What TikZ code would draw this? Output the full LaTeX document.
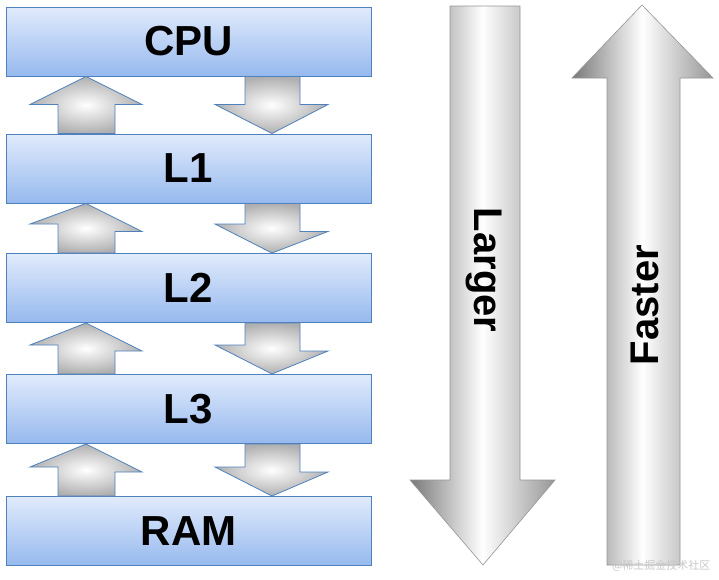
\documentclass[tikz,border=0pt]{standalone}
\usepackage{fontspec}
\setmainfont{Liberation Sans}
\newfontfamily\cjk{Noto Sans CJK SC}
\begin{document}
\begin{tikzpicture}[x=1pt,y=-1pt,
 lvl/.style={draw={rgb,255:red,79;green,129;blue,189},line width=1pt,top color={rgb,255:red,225;green,235;blue,252},bottom color={rgb,255:red,150;green,185;blue,238},minimum width=365pt,minimum height=69pt,inner sep=0pt,font=\fontsize{42}{44}\selectfont\bfseries},
 sarrow/.style={draw={rgb,255:red,79;green,129;blue,189},line width=0.8pt,inner color=white,outer color={rgb,255:red,175;green,175;blue,175}},
 bigarrow/.style={draw={rgb,255:red,150;green,150;blue,150},line width=0.6pt,left color={rgb,255:red,120;green,120;blue,120},right color={rgb,255:red,150;green,150;blue,150},middle color=white}]
\useasboundingbox (0,0) rectangle (719,579);
\foreach \n/\t/\y in {cpu/CPU/41.5,l1/L1/168.5,l2/L2/288,l3/L3/409,ram/RAM/531}
  \node[lvl] (\n) at (188.5,\y) {\t};
\foreach \a/\b in {cpu/l1,l1/l2,l2/l3,l3/ram}{
  \path[sarrow] (\a.south -| 86,0) -- ++(56,28) -- ++(-27,0) |- (\b.north -| 58,0) -- ++(0,-1) -- ++(0,-28)-- ++(-28,0) -- cycle;
  \path[sarrow] (\a.south -| 245,0) -- ++(55,0) -- ++(0,28) -- ++(28,0) -- (\b.north -| 272,0) -- ++(-57,-29) -- ++(30,0) -- cycle;
}
\path[bigarrow] (450,6) -- (520,6) -- (520,480) -- (555,480) -- (483,565) -- (410,480) -- (450,480) -- cycle;
\node[rotate=-90,font=\fontsize{40}{42}\selectfont\bfseries] (larger) at (484,270) {Larger};
\path[bigarrow] (642,5) -- (713,78) -- (680,78) -- (680,565) -- (607,565) -- (607,78) -- (572,78) -- cycle;
\node[rotate=90,font=\fontsize{40}{42}\selectfont\bfseries] (faster) at (645,305) {Faster};
\node[font=\cjk\fontsize{11}{12}\selectfont,text={rgb,255:red,200;green,200;blue,200},anchor=east] (wm) at (714,566) {@稀土掘金技术社区};
\end{tikzpicture}
\end{document}
